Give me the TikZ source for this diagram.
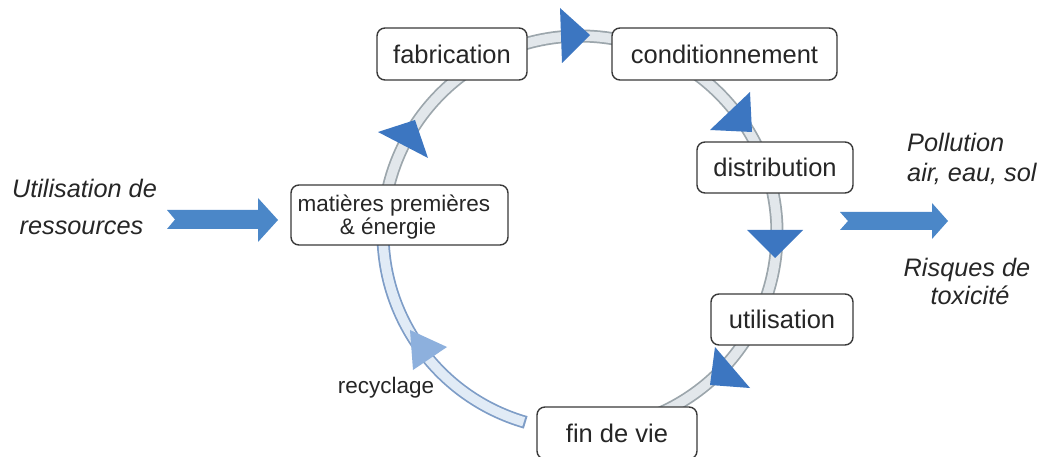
\documentclass[tikz,border=0pt]{standalone}
\usepackage{fontspec}
\setmainfont{Liberation Sans}
\definecolor{boxedge}{HTML}{3A3A3A}
\definecolor{txt}{HTML}{262626}
\definecolor{ringedge}{HTML}{9CA6AC}
\definecolor{ringfill}{HTML}{E2E7EB}
\definecolor{recedge}{HTML}{7E9DC7}
\definecolor{recfill}{HTML}{E1EBF6}
\definecolor{triblue}{HTML}{3C76C1}
\definecolor{trilight}{HTML}{8DB0DD}
\definecolor{bigblue}{HTML}{4B87C8}
\begin{document}
\begin{tikzpicture}[x=1pt,y=-1pt,
  stage/.style={draw=boxedge, line width=1.4pt, rounded corners=8pt, fill=white,
    text=txt, font=\fontsize{25.5}{28}\selectfont, inner sep=0pt},
  small/.style={text=txt, font=\fontsize{22.5}{23}\selectfont, inner sep=0pt},
  side/.style={text=txt, font=\fontsize{25.3}{30}\selectfont\itshape, inner sep=0pt},
  tri/.style={fill=triblue, draw=none},
  trirec/.style={fill=trilight, draw=none},
  big/.style={fill=bigblue, draw=none}]
\useasboundingbox (0,0) rectangle (1045,457);
\fill[white] (0,0) rectangle (1045,457);

% ring
\coordinate (c) at (580,233);
\draw[ringedge, line width=13pt] ([shift={(180:197)}]c) arc[start angle=180, end angle=450, radius=197];
\draw[ringfill, line width=9.5pt] ([shift={(180:197)}]c) arc[start angle=180, end angle=450, radius=197];
\draw[recedge, line width=13pt] ([shift={(106:197)}]c) arc[start angle=106, end angle=185, radius=197];
\draw[recfill, line width=9.5pt] ([shift={(106.6:197)}]c) arc[start angle=106.6, end angle=185, radius=197];

% arrowheads on the ring
\fill[tri] (378,132) -- (428,158) -- (415,120) -- cycle;
\fill[tri] (560,8) -- (562,63) -- (590,35) -- cycle;
\fill[tri] (710,130) -- (750,92) -- (752,132) -- cycle;
\fill[tri] (747,230) -- (803,230) -- (775,258) -- cycle;
\fill[tri] (715,347) -- (750,388) -- (710,385) -- cycle;
\fill[trirec] (413,370) -- (447,347) -- (410,330) -- cycle;

% stages
\node[stage, minimum width=150pt, minimum height=52pt] (fab) at (452,54) {fabrication};
\node[stage, minimum width=225pt, minimum height=52pt] (cond) at (724.5,54) {conditionnement};
\node[stage, minimum width=156pt, minimum height=51pt] (dist) at (775,167.5) {distribution};
\node[stage, minimum width=142pt, minimum height=51pt] (util) at (782,319.5) {utilisation};
\node[stage, minimum width=160pt, minimum height=52pt] (fin) at (617,433) {fin de vie};
\node[stage, minimum width=217pt, minimum height=60pt] (mat) at (399.5,215) {};
\node[small, align=center, anchor=base] (mat1) at (394,212) {matières premières};
\node[small, anchor=base] (mat2) at (388,235) {\& énergie};
\node[small, anchor=base] (rec) at (386,393) {recyclage};

% inputs / outputs
\node[side, anchor=base] (res1) at (84.5,198) {Utilisation de};
\node[side, anchor=base] (res2) at (81.5,235) {ressources};
\fill[big] (167,210) -- (258,210) -- (258,198) -- (278,220) -- (258,242) -- (258,229) -- (167,229) -- (175,219.5) -- cycle;

\fill[big] (840,212) -- (932,212) -- (932,203) -- (948,221) -- (932,239) -- (932,230) -- (840,230) -- (848,221) -- cycle;
\node[side, anchor=base west] (pol1) at (907,152) {Pollution};
\node[side, anchor=base west] (pol2) at (907,182) {air, eau, sol};
\node[side, anchor=base] (tox1) at (967,277) {Risques de};
\node[side, anchor=base] (tox2) at (970,305) {toxicité};
\end{tikzpicture}
\end{document}
